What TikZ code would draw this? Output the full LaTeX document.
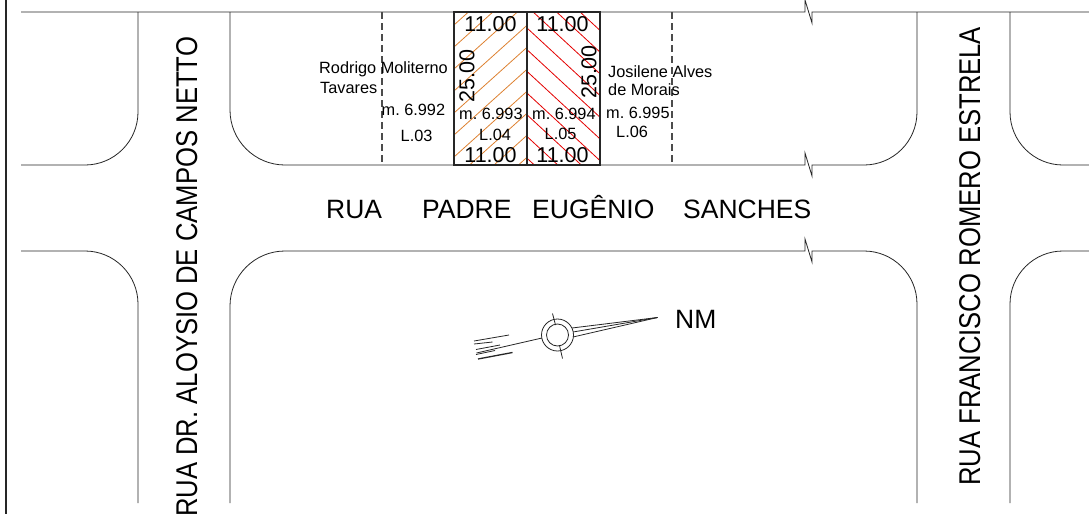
\documentclass[tikz,border=0pt]{standalone}
\usepackage{fontspec}
\setmainfont{Liberation Sans}
\newcommand{\fbig}{\fontsize{26.5}{26.5}\selectfont}
\newcommand{\fvert}{\fontsize{30}{30}\selectfont}
\newcommand{\fdim}{\fontsize{21.5}{21.5}\selectfont}
\newcommand{\fsmall}{\fontsize{16.3}{18}\selectfont}
\definecolor{hatchorange}{RGB}{222,130,50}
\tikzset{
  road/.style={line width=0.8pt,black!85},
  lot/.style={line width=2.4pt,black!85},
  divide/.style={line width=1.1pt,black!70,dash pattern=on 7pt off 4pt},
  orangehatch/.style={line width=0.8pt,hatchorange},
  redhatch/.style={line width=0.8pt,red!90!black},
  dimtext/.style={inner sep=0pt,font=\frenchspacing\fdim,black},
  smalltext/.style={inner sep=0pt,font=\frenchspacing\fsmall,black,align=left},
  bigtext/.style={inner sep=0pt,font=\frenchspacing\fbig,black},
  verttext/.style={inner sep=0pt,font=\frenchspacing\fvert,black,rotate=90,xscale=.855,anchor=base west},
  compass/.style={line width=0.8pt,black!85}
}
\begin{document}
\begin{tikzpicture}[x=1pt,y=-1pt]
\useasboundingbox[fill=white] (0,0) rectangle (1089,514);
% frame
\draw[line width=1.6pt,black!85] (6,0) -- (6,514);
% road lines with breaks
\draw[road] (21,12) -- (805,12) -- (805,0) -- (812,23) -- (812,12) -- (1089,12);
\draw[road] (21,165) -- (85,165) arc[start angle=90,end angle=0,radius=53] -- (138,12);
\draw[road] (230,12) -- (230,110) arc[start angle=180,end angle=90,radius=55] -- (805,165) -- (805,153) -- (812,176) -- (812,165) -- (864,165) arc[start angle=90,end angle=0,radius=53] -- (917,12);
\draw[road] (1010,12) -- (1010,112) arc[start angle=180,end angle=90,radius=53] -- (1089,165);
\draw[road] (21,251) -- (85,251) arc[start angle=270,end angle=360,radius=53] -- (138,503);
\draw[road] (230,503) -- (230,306) arc[start angle=180,end angle=270,radius=55] -- (805,251) -- (805,239) -- (812,262) -- (812,251) -- (864,251) arc[start angle=270,end angle=360,radius=53] -- (917,503);
\draw[road] (1010,503) -- (1010,304) arc[start angle=180,end angle=270,radius=53] -- (1089,251);
% hatching
\begin{scope}
\clip (454,12) rectangle (527,165);
\foreach \k in {0,...,11}{
  \draw[orangehatch] (454,{25+22*(\k-1)}) -- ++(80,-72);
}
\end{scope}
\begin{scope}
\clip (527,12) rectangle (600,165);
\foreach \k in {-3,...,7}{
  \draw[redhatch] (527,{28+21.7*\k}) -- ++(80,74);
}
\end{scope}
% lots
\draw[divide] (382,12) -- (382,165);
\draw[divide] (672,12) -- (672,165);
\draw[lot] (454,12) rectangle (600,165);
\draw[lot] (527,12) -- (527,165);
% dimensions
\node[dimtext] (d1) at (490.5,24) {11.00};
\node[dimtext] (d2) at (562.5,24) {11.00};
\node[dimtext] (d3) at (490.5,155) {11.00};
\node[dimtext] (d4) at (562.5,155) {11.00};
\node[dimtext,rotate=90] (d5) at (467,76) {25.00};
\node[dimtext,rotate=90] (d6) at (589,72) {25.00};
% owners
\node[smalltext,anchor=west] (o1) at (319,69) {Rodrigo Moliterno};
\node[smalltext,anchor=west] (o2) at (320,88) {Tavares};
\node[smalltext,anchor=west] (o3) at (608,72) {Josilene Alves};
\node[smalltext,anchor=west] (o4) at (608,90) {de Morais};
\node[smalltext,anchor=west] (m1) at (381.5,110) {m. 6.992};
\node[smalltext,anchor=west] (m2) at (459,114) {m. 6.993};
\node[smalltext,anchor=west] (m3) at (532,114) {m. 6.994};
\node[smalltext,anchor=west] (m4) at (606,113) {m. 6.995};
\node[smalltext,anchor=west] (l1) at (400.5,136) {L.03};
\node[smalltext,anchor=west] (l2) at (479,135) {L.04};
\node[smalltext,anchor=west] (l3) at (544.5,134) {L.05};
\node[smalltext,anchor=west] (l4) at (616,132) {L.06};
% streets
\node[bigtext,anchor=base west] (s1) at (326,218) {RUA};
\node[bigtext,anchor=base west] (s2) at (422,218) {PADRE};
\node[bigtext,anchor=base west] (s3) at (532,218) {EUGÊNIO};
\node[bigtext,anchor=base west] (s4) at (683,218) {SANCHES};
\node[verttext] (s5) at (197,517) {RUA DR. ALOYSIO DE CAMPOS NETTO};
\node[verttext] (s6) at (980,486) {RUA FRANCISCO ROMERO ESTRELA};
\node[bigtext,anchor=base west] (nm) at (675,328) {NM};
% north mark
\coordinate (cc) at (557.5,335);
\draw[compass] (cc) circle[radius=16];
\draw[compass] (cc) circle[radius=11];
\draw[compass] (572,328) -- (657.5,317.5);
\draw[compass] (573,332) -- (657.5,317.5);
\draw[compass] (573,337) -- (657.5,317.5);
\draw[compass] (542,338) -- (476.5,353);
\draw[compass] (552.5,313.5) -- (555.5,325);
\draw[compass] (559.5,345.5) -- (562.5,358.5);
\draw[compass] (474,341) -- (509,335);
\draw[compass] (474,344) -- (492.5,342);
\draw[compass] (476,349.5) -- (500,345);
\draw[compass] (476,354.5) -- (495,350.5);
\draw[compass,line width=1.3pt] (478,359) -- (512.5,352.5);
\end{tikzpicture}
\end{document}
